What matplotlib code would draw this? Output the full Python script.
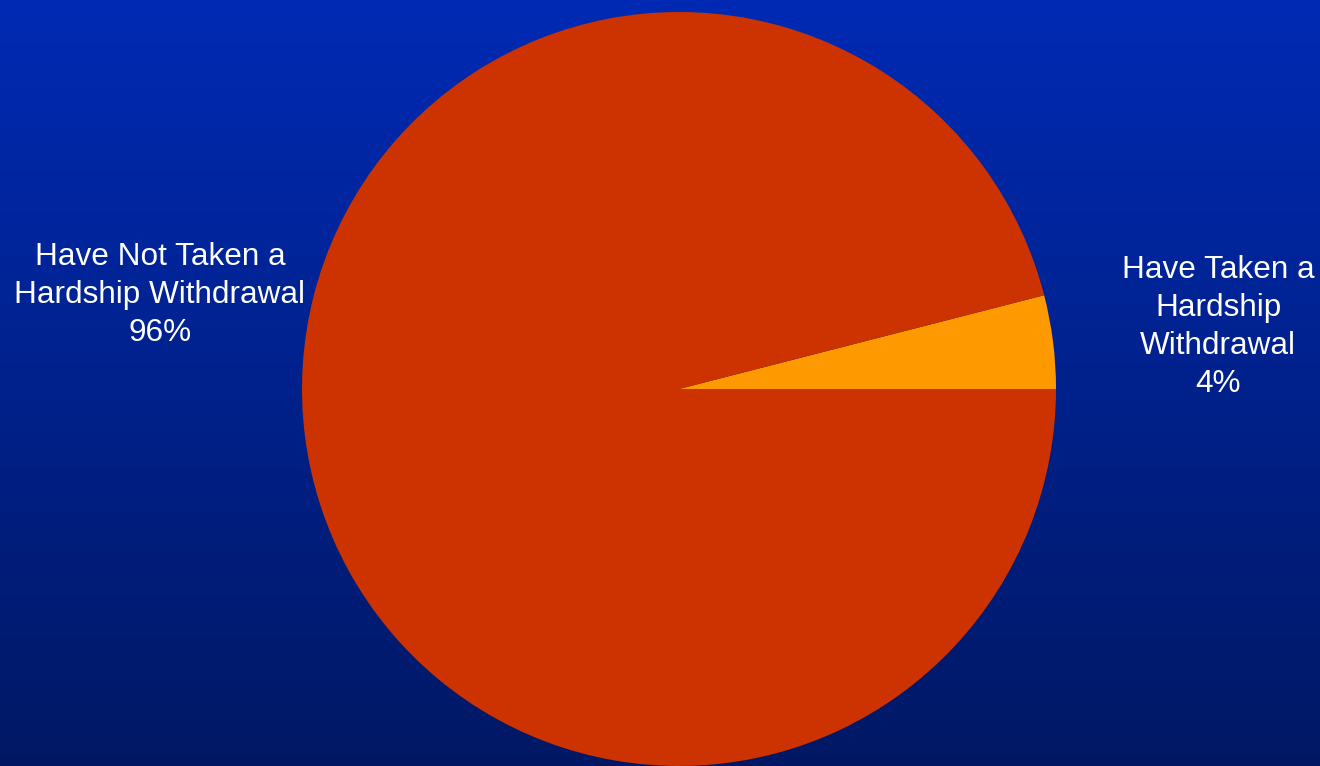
import matplotlib.pyplot as plt
import numpy as np

# data
labels = ['Have Taken a\nHardship\nWithdrawal', 'Have Not Taken a\nHardship Withdrawal']
shares = [4, 96]
colors = ['#FF9900', '#CC3300']

W, H = 1320, 766
fig = plt.figure(figsize=(13.2, 7.66), dpi=100)
ax = fig.add_axes([0, 0, 1, 1])

# vertical gradient background
top = np.array([0, 42, 180]) / 255
bot = np.array([0, 24, 100]) / 255
t = np.linspace(0, 1, 256)[:, None]
grad = top * (1 - t) + bot * t
grad = np.repeat(grad[:, None, :], 2, axis=1)
ax.imshow(grad, extent=[0, W, 0, H], aspect='auto', zorder=0)

ax.pie(shares, colors=colors, startangle=0, counterclock=True,
       center=(679, 377), radius=377, frame=True,
       wedgeprops=dict(linewidth=0))
ax.set_xlim(0, W)
ax.set_ylim(0, H)
ax.set_aspect('auto')
ax.axis('off')

fnt = dict(family='Liberation Sans', size=22.7, color='white',
           ha='center', va='center', linespacing=1.35)
ax.text(1218, H - 327, f'{labels[0]}\n{shares[0]}%', **fnt)
ax.text(160, H - 295, f'{labels[1]}\n{shares[1]}%', **fnt)

fig.savefig('out.png', dpi=100)
